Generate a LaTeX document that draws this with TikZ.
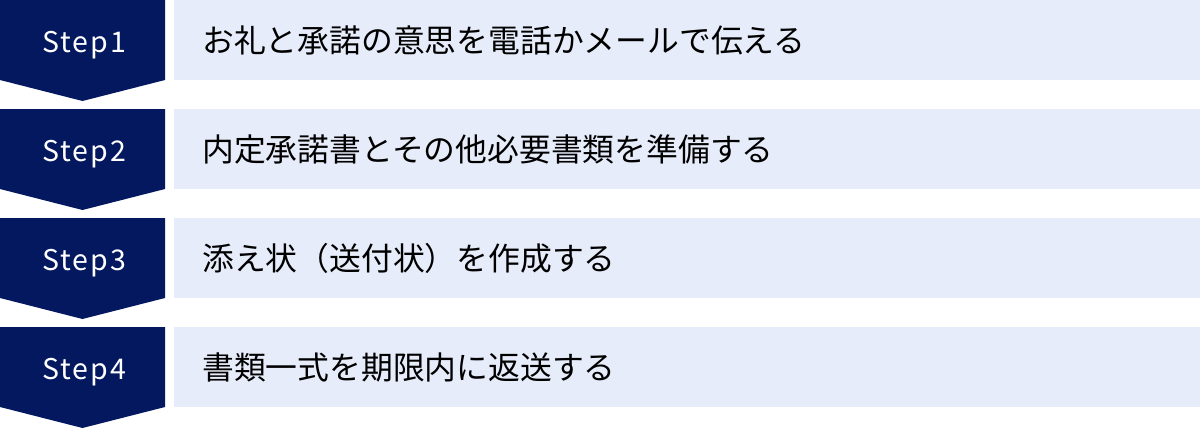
\documentclass[tikz,border=0pt]{standalone}
\usepackage{fontspec}
\newfontfamily\jpfont{Noto Sans CJK JP}
\newfontfamily\stepfont[LetterSpace=7]{Noto Sans CJK JP}
\definecolor{navy}{RGB}{4,24,96}
\definecolor{pale}{RGB}{230,236,249}
\tikzset{
  chevron/.style={fill=navy,draw=none},
  band/.style={fill=pale,draw=none},
  steplabel/.style={text=white,inner sep=0pt,anchor=base,font=\stepfont\fontsize{28.5}{28.5}\selectfont},
  bandtext/.style={text=black,inner sep=0pt,anchor=west,font=\jpfont\fontsize{31.8}{31.8}\selectfont},
}
\begin{document}
\begin{tikzpicture}[x=1pt,y=-1pt]
\useasboundingbox (0,0) rectangle (1200,429);
\foreach \i/\t in {0/お礼と承諾の意思を電話かメールで伝える,1/内定承諾書とその他必要書類を準備する,2/添え状（送付状）を作成する,3/書類一式を期限内に返送する}{
  \pgfmathsetmacro{\top}{\i*109}
  \fill[chevron] (0,\top) -- (165,\top) -- (165,\top+80) -- (82.5,\top+101) -- (0,\top+80) -- cycle;
  \fill[band] (174,\top) rectangle (1200,\top+80);
  \pgfmathtruncatemacro{\n}{\i+1}
  \node[steplabel] (step\n) at (84,\top+52) {Step\n};
  \node[bandtext] (text\n) at (202,\top+40) {\t};
}
\end{tikzpicture}
\end{document}
